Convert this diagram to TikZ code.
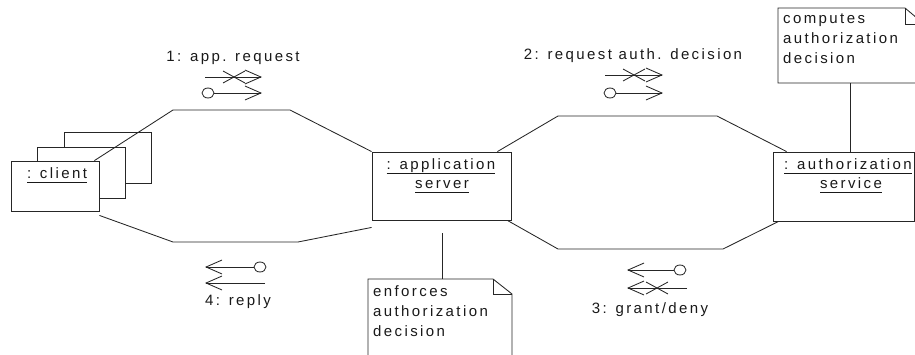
\documentclass[tikz,border=0pt]{standalone}
\usepackage{fontspec}
\setmainfont{Liberation Sans}[LetterSpace=16]
\usetikzlibrary{arrows.meta,calc,shapes.geometric}
\newcommand\ulx[1]{\underline{\vphantom{p}#1}}
\tikzset{
  ln/.style={draw=black!85, line width=0.85pt},
  txt/.style={font=\fontsize{15}{20}\selectfont, inner sep=0pt, text=black!90},
  obj/.style={ln, fill=white, inner sep=0pt},
  link/.style={ln},
  msg/.style={ln, -{Straight Barb[length=16pt,width=14pt,line width=0.85pt]}},
  ring/.style={ln, ellipse, minimum width=12pt, minimum height=10pt, inner sep=0pt},
}
\begin{document}
\begin{tikzpicture}[x=1pt,y=-1pt]
\useasboundingbox (0,0) rectangle (915,354);
\clip (0,0) rectangle (915,354);
% client multi-object
\node[obj, minimum width=87pt, minimum height=51pt] (cback) at (107.5,157.5) {};
\node[obj, minimum width=88pt, minimum height=51pt] (cmid) at (81,172.5) {};
\node[obj, minimum width=88pt, minimum height=50pt] (client) at (55,186) {};
\node[txt, anchor=base] (clientlbl) at (57,178) {\ulx{: client}};
% application server
\node[obj, minimum width=139pt, minimum height=68pt] (app) at (441.5,186) {};
\node[txt, anchor=base] (applbl1) at (441,169) {\ulx{: application}};
\node[txt, anchor=base] (applbl2) at (442,188) {\ulx{server}};
% authorization service
\node[obj, minimum width=141pt, minimum height=69pt] (auth) at (843.5,186.5) {};
\node[txt, anchor=base] (authlbl1) at (848,169) {\ulx{: authorization}};
\node[txt, anchor=base] (authlbl2) at (851,188) {\ulx{service}};
% links
\draw[link] ([xshift=-5pt]client.north east) -- (173,110) -- (290,110) -- (app.north west);
\draw[link] ([yshift=-4pt]client.south east) -- (173,242) -- (298,242) -- ([yshift=-7pt]app.south west);
\draw[link] ([xshift=-14pt]app.north east) -- (558,116) -- (717,116) -- ([xshift=14pt]auth.north west);
\draw[link] ([xshift=-4pt]app.south east) -- (558,249) -- (723,249) -- ([xshift=6pt]auth.south west);
% notes
\draw[ln] (368,360) -- (368,279) -- (493,279) -- (512,294) -- (512,360);
\draw[ln] (493,279) -- (493,294) -- (512,294);
\coordinate (n1top) at (442,279);
\node[txt, anchor=north west, align=left] (note1) at (373,285) {enforces\\authorization\\decision};
\draw[link, shorten <=13pt] (app.south -| n1top) -- (n1top);
\draw[ln, fill=white] (778,83) -- (778,8) -- (905,8) -- (924,24) -- (924,83) -- cycle;
\draw[ln] (905,8) -- (905,24) -- (924,24);
\coordinate (n2bot) at (850,83);
\node[txt, anchor=north west, align=left] (note2) at (783,14) {computes\\authorization\\decision};
\draw[link] (n2bot) -- (n2bot |- auth.north);
% message 1
\node[txt] (m1lbl) at (233,58) {1: app. request};
\coordinate (m1a) at (205,77); \coordinate (m1b) at (262,77);
\draw[msg] (m1a) -- (m1b);
\draw[ln] (223,71) -- (245,83) (223,83) -- (245,71);
\node[ring] (m1c) at (208,93) {};
\coordinate (m1d) at (262,93);
\draw[msg] (m1c) -- (m1d);
% message 2
\node[txt] (m2lbl) at (633,56) {2: request auth. decision};
\coordinate (m2a) at (605,75); \coordinate (m2b) at (663,75);
\draw[msg] (m2a) -- (m2b);
\draw[ln] (623,69) -- (645,81) (623,81) -- (645,69);
\node[ring] (m2c) at (610,93) {};
\coordinate (m2d) at (663,93);
\draw[msg] (m2c) -- (m2d);
% message 4
\node[ring] (m4c) at (260,267) {};
\coordinate (m4d) at (205,267);
\draw[msg] (m4c) -- (m4d);
\coordinate (m4a) at (265,283); \coordinate (m4b) at (205,283);
\draw[msg] (m4a) -- (m4b);
\node[txt] (m4lbl) at (238,302) {4: reply};
% message 3
\node[ring] (m3c) at (680,270) {};
\coordinate (m3d) at (627,270);
\draw[msg] (m3c) -- (m3d);
\coordinate (m3a) at (687,288); \coordinate (m3b) at (627,288);
\draw[msg] (m3a) -- (m3b);
\draw[ln] (646,282) -- (668,294) (646,294) -- (668,282);
\node[txt] (m3lbl) at (650,310) {3: grant/deny};
\end{tikzpicture}
\end{document}
